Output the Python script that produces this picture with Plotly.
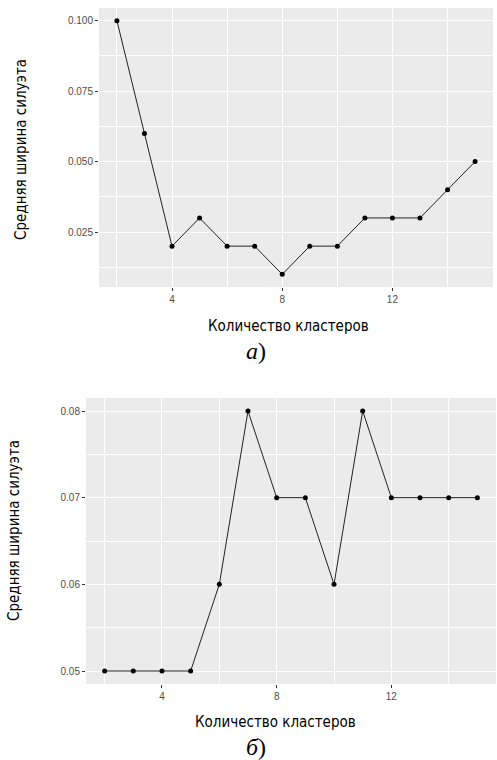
import plotly.graph_objects as go

clusters = list(range(2, 16))
sil_a = [0.10, 0.06, 0.02, 0.03, 0.02, 0.02, 0.01, 0.02, 0.02, 0.03, 0.03, 0.03, 0.04, 0.05]
sil_b = [0.05, 0.05, 0.05, 0.05, 0.06, 0.08, 0.07, 0.07, 0.06, 0.08, 0.07, 0.07, 0.07, 0.07]

x_ticks = [4, 8, 12]
ya_ticks = [0.025, 0.050, 0.075, 0.100]
yb_ticks = [0.05, 0.06, 0.07, 0.08]

W, H = 497, 760
def px(x): return x / W
def py(y): return 1 - y / H

BG = "#EBEBEB"
TICKC = "#4D4D4D"
TITLE_FONT = "DejaVu Sans Condensed, Liberation Sans Narrow, Arial Narrow, sans-serif"

fig = go.Figure()
line = dict(color="#222222", width=1)
marker = dict(color="black", size=5)
fig.add_trace(go.Scatter(x=clusters, y=sil_a, mode="lines+markers", line=line, marker=marker,
                         xaxis="x", yaxis="y", showlegend=False))
fig.add_trace(go.Scatter(x=clusters, y=sil_b, mode="lines+markers", line=line, marker=marker,
                         xaxis="x2", yaxis="y2", showlegend=False))

def xax(domain, anchor):
    return dict(domain=domain, anchor=anchor, range=[1.35, 15.65], tickvals=x_ticks,
                showgrid=True, gridcolor="white", gridwidth=1.1, zeroline=False,
                ticks="outside", ticklen=3, tickcolor="#333333", tickwidth=1,
                tickfont=dict(family="Liberation Sans, Arial", size=10, color=TICKC),
                minor=dict(tickvals=[2, 6, 10, 14], showgrid=True, gridcolor="white", gridwidth=0.5, ticks=""),
                showline=False, fixedrange=True)

def yax(domain, anchor, rng, ticks, fmt, minor):
    return dict(domain=domain, anchor=anchor, range=rng, tickvals=ticks, tickformat=fmt,
                showgrid=True, gridcolor="white", gridwidth=1.1, zeroline=False,
                ticks="outside", ticklen=3, tickcolor="#333333", tickwidth=1,
                tickfont=dict(family="Liberation Sans, Arial", size=10, color=TICKC),
                minor=dict(tickvals=minor, showgrid=True, gridcolor="white", gridwidth=0.5, ticks=""),
                showline=False, fixedrange=True)

fig.update_layout(
    width=W, height=H,
    margin=dict(l=0, r=0, t=0, b=0),
    paper_bgcolor="white", plot_bgcolor=BG,
    xaxis=xax([px(99), px(493)], "y"),
    yaxis=yax([py(287), py(8)], "x", [0.0055, 0.1045], ya_ticks, ".3f",
              [0.0125, 0.0375, 0.0625, 0.0875]),
    xaxis2=xax([px(86), px(496)], "y2"),
    yaxis2=yax([py(684), py(398)], "x2", [0.0485, 0.0815], yb_ticks, ".2f",
               [0.055, 0.065, 0.075]),
)

ann = []
def title(text, x, y, size, angle=0, family=TITLE_FONT):
    ann.append(dict(text=text, x=px(x), y=py(y), xref="paper", yref="paper", showarrow=False,
                    xanchor="center", yanchor="middle", textangle=angle,
                    font=dict(family=family, size=size, color="black")))

title("Количество кластеров", 288, 326, 15)
title("Средняя ширина силуэта", 21, 150, 15, angle=-90)
title("<i>а</i>)", 256, 351, 24, family="Liberation Serif, Times New Roman, serif")
title("Количество кластеров", 275, 722, 15)
title("Средняя ширина силуэта", 14, 531, 15, angle=-90)
title("<i>б</i>)", 256, 747, 24, family="Liberation Serif, Times New Roman, serif")
fig.update_layout(annotations=ann)

fig.write_html("out.html")
